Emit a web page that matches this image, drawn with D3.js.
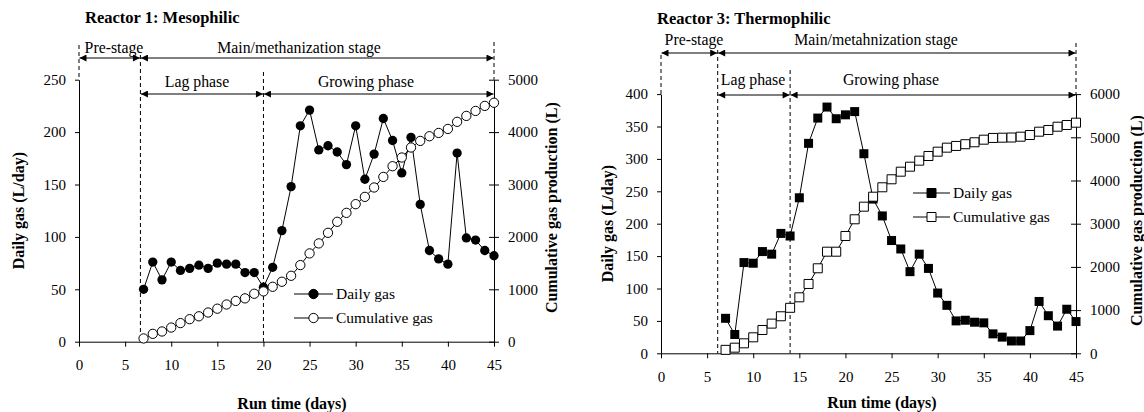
<!DOCTYPE html>
<html><head><meta charset="utf-8">
<script src="https://cdn.jsdelivr.net/npm/d3@7"></script>
<style>
html,body{margin:0;padding:0;background:#fff;}
svg{display:block;font-family:"Liberation Serif","Times New Roman",Times,serif;}
svg text{font-family:"Liberation Serif","Times New Roman",Times,serif;}
</style></head><body>
<svg id="chart" width="1144" height="412"></svg>
<script>
// ---------- data ----------
const days = [7,8,9,10,11,12,13,14,15,16,17,18,19,20,21,22,23,24,25,26,27,28,29,30,31,32,33,34,35,36,37,38,39,40,41,42,43,44,45];
const r1Daily = [50,76,59,76,68,70,73,70,75,74,74,66,66,52,71,106,148,206,221,183,187,181,169,206,155,179,213,192,161,195,131,87,79,74,180,99,97,87,82];
const r1Cumulative = [62,150,195,270,355,430,485,557,630,710,778,827,915,960,1048,1144,1258,1462,1685,1876,2078,2288,2459,2625,2764,2943,3145,3349,3515,3706,3832,3921,3984,4060,4196,4309,4404,4500,4560];
const r3Daily = [54,29,140,139,157,153,185,181,240,324,363,380,362,368,373,308,238,212,174,161,126,153,131,93,74,50,51,48,47,30,25,19,19,35,80,58,42,68,49];
const r3Cumulative = [80,130,231,370,540,687,857,1053,1296,1605,1968,2352,2352,2716,3102,3394,3625,3843,4028,4204,4320,4459,4567,4667,4760,4800,4840,4885,4945,4985,4991,4995,5014,5053,5130,5169,5245,5285,5338];
const xTicks = [0,5,10,15,20,25,30,35,40,45];
const r1DailyTicks = [0,50,100,150,200,250];
const r1CumTicks = [0,1000,2000,3000,4000,5000];
const r3DailyTicks = [0,50,100,150,200,250,300,350,400];
const r3CumTicks = [0,1000,2000,3000,4000,5000,6000];
// phase boundaries (days): start, main stage start, growing phase start, end
const r1Phases = [0,6.66,20,45];
const r3Phases = [0,6.15,14,45];
const r1StageLabels = ["Pre-stage","Main/methanization stage"];
const r3StageLabels = ["Pre-stage","Main/metahnization stage"];
const phaseLabels = ["Lag phase","Growing phase"];
const seriesNames = ["Daily gas","Cumulative gas"];
const titles = ["Reactor 1: Mesophilic","Reactor 3: Thermophilic"];
const xTitle = "Run time (days)";
const yTitle = "Daily gas (L/day)";
const y2Title = "Cumulative gas production (L)";

// ---------- drawing ----------
const FONT = '"Liberation Serif","Times New Roman",Times,serif';
const svg = d3.select("#chart");
svg.append("rect").attr("width",1144).attr("height",412).attr("fill","#fff");
const defs = svg.append("defs");
defs.append("marker").attr("id","ah").attr("viewBox","0 0 10 10").attr("refX",10).attr("refY",5)
  .attr("markerWidth",8).attr("markerHeight",7).attr("markerUnits","userSpaceOnUse").attr("orient","auto-start-reverse")
  .append("path").attr("d","M0,0 L10,5 L0,10 Z").attr("fill","#000");

function drawChart(c){
  const g = svg.append("g").attr("font-family",FONT);
  const x = d3.scaleLinear().domain([0,45]).range([c.left,c.right]);
  const yL = d3.scaleLinear().domain([0,d3.max(c.yTicks)]).range([c.bottom,c.top]);
  const yR = d3.scaleLinear().domain([0,d3.max(c.y2Ticks)]).range([c.bottom,c.top]);
  const fmt = d3.format("d");

  g.append("text").attr("x",c.titleX).attr("y",c.titleY).attr("dy","0.35em")
    .attr("font-weight","bold").attr("font-size",16.5).text(c.title);

  // axes
  const style = sel => {
    sel.attr("font-family",FONT).attr("font-size",15);
    sel.selectAll("path,line").attr("stroke","#000").attr("stroke-width",1);
    sel.selectAll("text").attr("fill","#000");
  };
  g.append("g").attr("transform",`translate(0,${c.bottom})`)
    .call(d3.axisBottom(x).tickValues(xTicks).tickFormat(fmt).tickSize(5).tickSizeOuter(0).tickPadding(13)).call(style);
  g.append("g").attr("transform",`translate(${c.left},0)`)
    .call(d3.axisLeft(yL).tickValues(c.yTicks).tickFormat(fmt).tickSize(4).tickSizeOuter(0).tickPadding(9)).call(style);
  const ra = g.append("g").attr("transform",`translate(${c.right},0)`)
    .call(d3.axisRight(yR).tickValues(c.y2Ticks).tickFormat(fmt).tickSize(5).tickSizeOuter(0).tickPadding(9)).call(style);
  ra.selectAll(".tick line").attr("x1",-5);

  // axis titles
  g.append("text").attr("x",c.xTitleX).attr("y",c.xTitleY).attr("dy","0.35em").attr("text-anchor","middle")
    .attr("font-weight","bold").attr("font-size",16).text(xTitle);
  g.append("text").attr("transform",`translate(${c.yTitleX},${(c.top+c.bottom)/2}) rotate(-90)`)
    .attr("dy","0.35em").attr("text-anchor","middle").attr("font-weight","bold").attr("font-size",16).text(yTitle);
  g.append("text").attr("transform",`translate(${c.y2TitleX},${(c.top+c.bottom)/2 - 3}) rotate(-90)`)
    .attr("dy","0.35em").attr("text-anchor","middle").attr("font-weight","bold").attr("font-size",16).text(y2Title);

  // phase dashed lines
  const ph = c.phases;
  const dashes = [[ph[0],c.dashTop0,c.top],[ph[1],c.stageArrowY-3,c.bottom],[ph[2],c.phaseTextY-9,c.bottom],[ph[3],c.dashTop3,c.top]];
  g.selectAll(".dash").data(dashes).join("line")
    .attr("x1",d=>x(d[0])).attr("x2",d=>x(d[0])).attr("y1",d=>d[1]).attr("y2",d=>d[2])
    .attr("stroke","#000").attr("stroke-width",1).attr("stroke-dasharray","4,3");

  // arrows
  const arrows = [[ph[0],ph[1],c.stageArrowY],[ph[1],ph[3],c.stageArrowY],[ph[1],ph[2],c.phaseArrowY],[ph[2],ph[3],c.phaseArrowY]];
  g.selectAll(".arr").data(arrows).join("line")
    .attr("x1",d=>x(d[0])+0.5).attr("x2",d=>x(d[1])-0.5).attr("y1",d=>d[2]).attr("y2",d=>d[2])
    .attr("stroke","#000").attr("stroke-width",1.2)
    .attr("marker-start","url(#ah)").attr("marker-end","url(#ah)");

  const labels = [[c.stageLabels[0],c.stageTextX[0],c.stageTextY],[c.stageLabels[1],c.stageTextX[1],c.stageTextY],
                  [phaseLabels[0],c.phaseTextX[0],c.phaseTextY],[phaseLabels[1],c.phaseTextX[1],c.phaseTextY]];
  g.selectAll(".lab").data(labels).join("text")
    .attr("x",d=>d[1]).attr("y",d=>d[2]).attr("dy","0.35em").attr("text-anchor","middle")
    .attr("font-size",15.8).text(d=>d[0]);

  // series
  const dailyPts = days.map((d,i)=>[d,c.daily[i]]);
  const cumPts = days.map((d,i)=>[d,c.cum[i]]);
  const lineL = d3.line().x(d=>x(d[0])).y(d=>yL(d[1]));
  const lineR = d3.line().x(d=>x(d[0])).y(d=>yR(d[1]));
  const sym = d3.symbol().type(c.shape).size(c.symSize);

  g.append("path").datum(dailyPts).attr("d",lineL).attr("fill","none").attr("stroke","#000").attr("stroke-width",1);
  g.selectAll(".dp").data(dailyPts).join("path")
    .attr("transform",d=>`translate(${x(d[0])},${yL(d[1])})`).attr("d",sym).attr("fill","#000");
  g.append("path").datum(cumPts).attr("d",lineR).attr("fill","none").attr("stroke","#000").attr("stroke-width",1);
  g.selectAll(".cp").data(cumPts).join("path")
    .attr("transform",d=>`translate(${x(d[0])},${yR(d[1])})`).attr("d",sym)
    .attr("fill","#fff").attr("stroke","#000").attr("stroke-width",1);

  // legend
  seriesNames.forEach((name,i)=>{
    const yy = c.legY + i*c.legGap;
    g.append("line").attr("x1",c.legX).attr("x2",c.legX+c.legW).attr("y1",yy).attr("y2",yy).attr("stroke","#000");
    g.append("path").attr("transform",`translate(${c.legX+c.legW/2},${yy})`).attr("d",sym)
      .attr("fill",i===0?"#000":"#fff").attr("stroke","#000").attr("stroke-width",1);
    g.append("text").attr("x",c.legX+c.legW+3).attr("y",yy).attr("dy","0.35em").attr("font-size",15.5).text(name);
  });
}

drawChart({
  left:79,right:494,top:79.7,bottom:341.7,
  yTicks:r1DailyTicks,y2Ticks:r1CumTicks,
  daily:r1Daily,cum:r1Cumulative,shape:d3.symbolCircle,symSize:68,
  title:titles[0],titleX:85,titleY:17,
  xTitleX:292,xTitleY:403,yTitleX:18,y2TitleX:551,
  phases:r1Phases,stageLabels:r1StageLabels,
  dashTop0:45,dashTop3:42,stageArrowY:58,phaseArrowY:94,
  stageTextY:47,phaseTextY:81,stageTextX:[114,299],phaseTextX:[197,366],
  legX:294,legW:39,legY:294,legGap:24
});
drawChart({
  left:661,right:1076,top:94.1,bottom:353.3,
  yTicks:r3DailyTicks,y2Ticks:r3CumTicks,
  daily:r3Daily,cum:r3Cumulative,shape:d3.symbolSquare,symSize:81,
  title:titles[1],titleX:657,titleY:18,
  xTitleX:882,xTitleY:402,yTitleX:607,y2TitleX:1136,
  phases:r3Phases,stageLabels:r3StageLabels,
  dashTop0:55,dashTop3:43,stageArrowY:53,phaseArrowY:95,
  stageTextY:39,phaseTextY:79,stageTextX:[694,876],phaseTextX:[753,891],
  legX:913,legW:37,legY:193,legGap:24
});
</script>
</body></html>
